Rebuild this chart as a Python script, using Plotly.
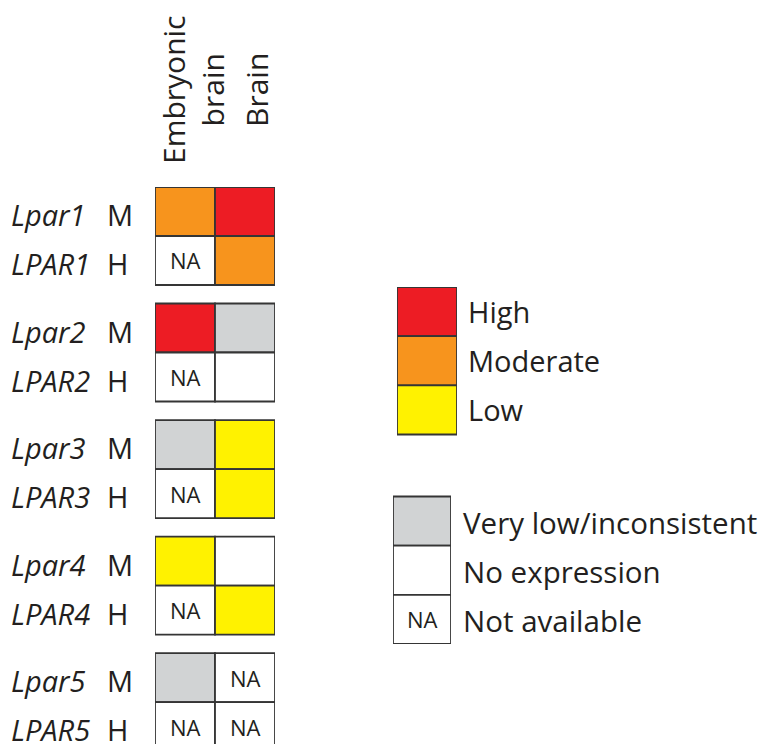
import plotly.graph_objects as go

# ---------------- data ----------------
columns = ["Embryonic<br>brain", "Brain"]
mouse_genes = ["Lpar1", "Lpar2", "Lpar3", "Lpar4", "Lpar5"]
human_genes = ["LPAR1", "LPAR2", "LPAR3", "LPAR4", "LPAR5"]
species = ["M", "H"]

# rows alternate: mouse row, human row for each gene
embryonic_brain = ["Moderate", "NA", "High", "NA", "Very low", "NA", "Low", "NA", "Very low", "NA"]
brain = ["High", "Moderate", "Very low", "None", "Low", "Low", "None", "Low", "NA", "NA"]

legend_top_levels = ["High", "Moderate", "Low"]
legend_top_labels = ["High", "Moderate", "Low"]
legend_bottom_levels = ["Very low", "None", "NA"]
legend_bottom_labels = ["Very low/inconsistent", "No expression", "Not available"]

level_colors = {
    "High": "#ED1C24",
    "Moderate": "#F7941D",
    "Low": "#FFF200",
    "Very low": "#D1D3D4",
    "None": "#FFFFFF",
    "NA": "#FFFFFF",
}

# ---------------- layout helpers ----------------
OFF = 8                       # page body margin
W, H = 768 - OFF, 744 - OFF   # figure size
GAP = 0.378                   # gap between gene groups, in row units
ROW_PX = 49.0
TXT = "#231f20"
LINE = "#353535"
LW = 1.8
FONT = "Open Sans"


def px(X):
    return (X - OFF) / W


def py(Y):
    return 1 - (Y - OFF) / H


row_labels = []
row_tops = []
for g in range(len(mouse_genes)):
    for r in range(2):
        row_tops.append(g * (2 + GAP) + r)
        row_labels.append((mouse_genes[g] if r == 0 else human_genes[g], species[r]))

fig = go.Figure()

for ci, col_vals in enumerate([embryonic_brain, brain]):
    fig.add_trace(go.Bar(
        x=[ci] * len(col_vals),
        y=[1] * len(col_vals),
        base=row_tops,
        width=1,
        marker=dict(color=[level_colors[v] for v in col_vals],
                    line=dict(color=LINE, width=LW)),
        xaxis="x", yaxis="y", hoverinfo="skip",
    ))

annotations = []
# NA texts in main grid
for ci, col_vals in enumerate([embryonic_brain, brain]):
    for ri, v in enumerate(col_vals):
        if v == "NA":
            annotations.append(dict(x=ci, y=row_tops[ri] + 0.5, xref="x", yref="y",
                                    text="NA", showarrow=False, xanchor="center",
                                    yanchor="middle",
                                    font=dict(family=FONT, size=22, color=TXT)))

# row labels
for ri, (gene, sp) in enumerate(row_labels):
    annotations.append(dict(x=px(9), y=row_tops[ri] + 0.5, xref="paper", yref="y",
                            text=f"<i>{gene}</i>", showarrow=False, xanchor="left",
                            yanchor="middle", yshift=-3,
                            font=dict(family=FONT, size=29, color=TXT)))
    annotations.append(dict(x=px(105), y=row_tops[ri] + 0.5, xref="paper", yref="y",
                            text=sp, showarrow=False, xanchor="left",
                            yanchor="middle", yshift=-3,
                            font=dict(family=FONT, size=29, color=TXT)))

# column headers
header_shift = [8, 11]
for ci, name in enumerate(columns):
    annotations.append(dict(x=ci, y=py(90), xref="x", yref="paper",
                            text=name, showarrow=False, textangle=-90,
                            xanchor="center", yanchor="middle",
                            xshift=header_shift[ci], align="center",
                            font=dict(family=FONT, size=30, color=TXT)))

# legends
L_GAP = 4.26
top_bases = list(range(len(legend_top_levels)))
bottom_bases = [L_GAP + i for i in range(len(legend_bottom_levels))]
fig.add_trace(go.Bar(
    x=[0] * len(legend_top_levels), y=[1] * len(legend_top_levels), base=top_bases, width=1,
    marker=dict(color=[level_colors[v] for v in legend_top_levels],
                line=dict(color=LINE, width=LW)),
    xaxis="x2", yaxis="y2", hoverinfo="skip"))
fig.add_trace(go.Bar(
    x=[0] * len(legend_bottom_levels), y=[1] * len(legend_bottom_levels), base=bottom_bases, width=1,
    marker=dict(color=[level_colors[v] for v in legend_bottom_levels],
                line=dict(color=LINE, width=LW)),
    xaxis="x3", yaxis="y2", hoverinfo="skip"))

for b, lab in zip(top_bases, legend_top_labels):
    annotations.append(dict(x=px(466), y=b + 0.5, xref="paper", yref="y2", text=lab,
                            showarrow=False, xanchor="left", yanchor="middle", yshift=0,
                            font=dict(family=FONT, size=29, color=TXT)))
for b, lab, lev in zip(bottom_bases, legend_bottom_labels, legend_bottom_levels):
    annotations.append(dict(x=px(461), y=b + 0.5, xref="paper", yref="y2", text=lab,
                            showarrow=False, xanchor="left", yanchor="middle", yshift=-1,
                            font=dict(family=FONT, size=29.5, color=TXT)))
    if lev == "NA":
        annotations.append(dict(x=0, y=b + 0.5, xref="x3", yref="y2", text="NA",
                                showarrow=False, xanchor="center", yanchor="middle",
                                font=dict(family=FONT, size=22, color=TXT)))

hidden = dict(visible=False, fixedrange=True)
fig.update_layout(
    width=W, height=H,
    margin=dict(l=0, r=0, t=0, b=0),
    paper_bgcolor="white", plot_bgcolor="rgba(0,0,0,0)",
    showlegend=False, barmode="overlay",
    xaxis=dict(domain=[px(155), px(275)], range=[-0.5, 1.5], **hidden),
    yaxis=dict(domain=[0, py(187)], range=[(744 - 187) / ROW_PX, 0], **hidden),
    xaxis2=dict(domain=[px(397), px(457)], range=[-0.5, 0.5], anchor="y2", **hidden),
    xaxis3=dict(domain=[px(393), px(451)], range=[-0.5, 0.5], anchor="y2", **hidden),
    yaxis2=dict(domain=[py(644), py(287)], range=[L_GAP + 3, 0], anchor="x2", **hidden),
    annotations=annotations,
)

fig.write_html("out.html")
